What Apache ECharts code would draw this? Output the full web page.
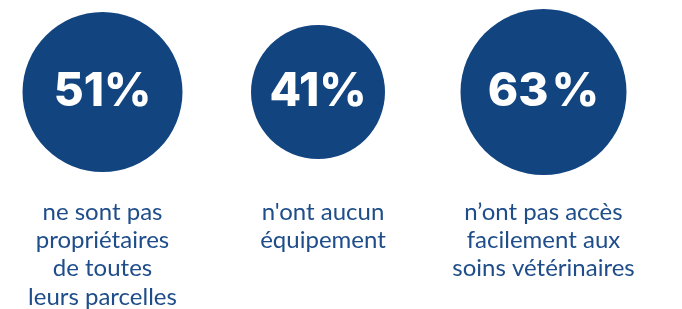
<!DOCTYPE html>
<html>
<head>
<meta charset="utf-8">
<script src="https://cdn.jsdelivr.net/npm/echarts@6/dist/echarts.min.js"></script>
<style>
  html, body { margin: 0; padding: 0; background: #fff; }
  #chart { width: 682px; height: 309px; }
</style>
</head>
<body>
<div id="chart"></div>
<script>
  // les données
  const categories = [
    'ne sont pas\npropriétaires\nde toutes\nleurs parcelles',
    "n'ont aucun\néquipement",
    'n’ont pas accès\nfacilement aux\nsoins vétérinaires'
  ]
  const values = [51, 41, 63]
  const valueLabels = ['51%', '41%', '63\u200A%']

  // taille des cercles, en px (mise en page, pas des données)
  const circleSizes = [160, 134, 166]
  const circleShift = [0, -5, 0]

  const chart = echarts.init(document.getElementById('chart'))

  const seriesData = values.map((v, i) => {
    return {
      value: [i, 0],
      name: valueLabels[i],
      symbolSize: circleSizes[i],
      symbolOffset: [circleShift[i], 0]
    }
  })

  chart.setOption({
    animation: false,
    grid: {
      left: 102.5,
      right: 138.5,
      top: 0,
      bottom: 125,
      outerBoundsMode: 'none'
    },
    xAxis: {
      type: 'category',
      data: categories,
      boundaryGap: false,
      axisLine: { show: false },
      axisTick: { show: false },
      splitLine: { show: false },
      axisLabel: {
        interval: 0,
        margin: 14,
        color: '#1e4d8a',
        fontFamily: 'Lato',
        fontSize: 24,
        lineHeight: 28.3,
        align: 'center'
      }
    },
    yAxis: {
      type: 'category',
      data: [''],
      show: false
    },
    series: [
      {
        type: 'scatter',
        symbol: 'circle',
        clip: false,
        silent: true,
        itemStyle: { color: '#124580', opacity: 1 },
        label: {
          show: true,
          position: 'inside',
          formatter: p => valueLabels[p.dataIndex],
          color: '#fff',
          fontFamily: 'Inter',
          fontWeight: 800,
          fontSize: 46
        },
        emphasis: { disabled: true },
        data: seriesData
      }
    ]
  })
</script>
</body>
</html>
